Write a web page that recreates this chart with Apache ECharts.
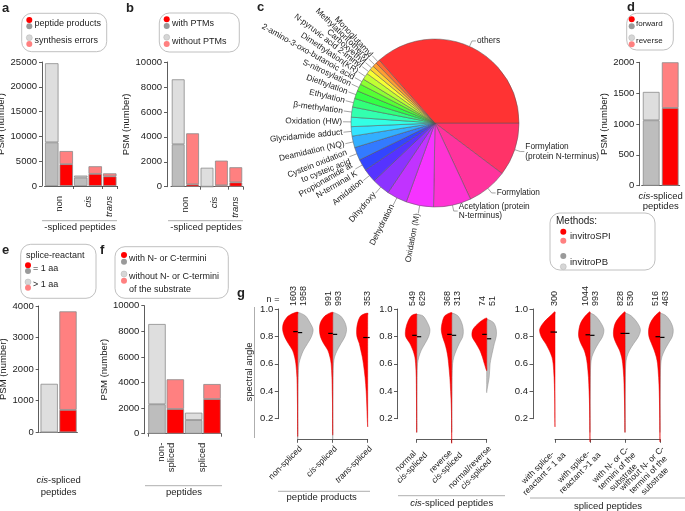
<!DOCTYPE html>
<html><head><meta charset="utf-8">
<script src="https://cdn.jsdelivr.net/npm/echarts@6/dist/echarts.min.js"></script>
<style>html,body{margin:0;padding:0;background:#fff}#c{width:685px;height:511px}</style>
</head><body><div id="c"></div>
<script>
const F = 'Liberation Sans, Arial, Helvetica, sans-serif';
const RED = '#ff0000', PINK = '#ff8080', DGRAY = '#bdbdbd', LGRAY = '#dedede';
const DOT_DGRAY = '#9a9a9a', DOT_LGRAY = '#d6d6d6';

// ---------- panel a ----------
const aCats = ['non|PB', 'non|SPI', 'cis|PB', 'cis|SPI', 'trans|SPI'];
const aMethod = ['PB', 'SPI', 'PB', 'SPI', 'SPI'];
const aProducts = [8800, 4400, 1700, 2450, 1950];
const aErrors = [15950, 2650, 400, 1530, 600];
const aGroups = ['non', 'cis', 'trans'];
// ---------- panel b ----------
const bCats = ['non|PB', 'non|SPI', 'cis|PB', 'cis|SPI', 'trans|SPI'];
const bMethod = ['PB', 'SPI', 'PB', 'SPI', 'SPI'];
const bWithPTM = [3400, 190, 0, 110, 350];
const bWithoutPTM = [5210, 4090, 1520, 1980, 1210];
// ---------- panel d ----------
const dCats = ['PB', 'SPI'];
const dMethod = ['PB', 'SPI'];
const dForward = [1060, 1260];
const dReverse = [460, 740];
// ---------- panel e ----------
const eCats = ['PB', 'SPI'];
const eMethod = ['PB', 'SPI'];
const eEq1 = [0, 710];
const eGt1 = [1535, 3120];
// ---------- panel f ----------
const fCats = ['non-spliced|PB', 'non-spliced|SPI', 'spliced|PB', 'spliced|SPI'];
const fMethod = ['PB', 'SPI', 'PB', 'SPI'];
const fWithNC = [2300, 1930, 1070, 2710];
const fWithoutNC = [6270, 2320, 570, 1170];

// ---------- panel c (pie, clockwise from 3 o'clock; values = slice angle share) ----------
const pieNames = ['Formylation\n(protein N-terminus)', 'Formylation', 'Acetylation (protein\nN-terminus)', 'Oxidation (M)',
  'Dehydration', 'Dihydroxy', 'Amidation', 'Propionamide at\nN-terminal K', 'Cystein oxidation\nto cysteic acid',
  'Deamidation (NQ)', 'Glycidamide adduct', 'Oxidation (HW)', 'β-methylation', 'Ethylation', 'Diethylation',
  'S-nitrosylation', '2-amino-3-oxo-butanoic acid', 'Dimethylation(KR)', 'N-pyruvic acid 2-iminyl', 'Carboxyethyl',
  'Methylation(others)', 'Monoglutamyl', 'others'];
const pieValues = [37, 28, 26, 19, 14, 12.5, 9.5, 8, 9, 8, 6.5, 6.5, 7, 6, 5.5, 5, 4, 4.5, 3.5, 3, 3, 3, 131.5];
const pieHorizontal = ['Formylation\n(protein N-terminus)', 'Formylation', 'Acetylation (protein\nN-terminus)', 'others'];

// ---------- panel g (violins) ----------
const vLevels = [0.95, 0.9, 0.85, 0.8, 0.75, 0.7, 0.65, 0.6, 0.5, 0.4, 0.3, 0.2];
// g1: peptide products
const g1Cats = ['non-spliced', '{i|cis}-spliced', '{i|trans}-spliced'];
const g1nSPI = [1603, 991, 353];
const g1nPB = [1958, 993, null];
const g1medSPI = [0.835, 0.822, 0.792];
const g1medPB = [0.828, 0.815, null];
const g1topSPI = [0.978, 0.977, 0.97];
const g1topPB = [0.975, 0.975, null];
const g1minSPI = [0.07, 0.08, 0.14];
const g1minPB = [0.05, 0.05, null];
const dNonSplSPI = [0.6, 0.92, 0.98, 0.86, 0.62, 0.34, 0.2, 0.12, 0.05, 0.03, 0.015, 0.01];
const dNonSplPB = [0.5, 0.8, 1.0, 0.9, 0.65, 0.38, 0.2, 0.08, 0.03, 0.015, 0.01, 0.006];
const dCisSplSPI = [0.5, 0.8, 0.86, 0.8, 0.6, 0.32, 0.18, 0.1, 0.05, 0.03, 0.01, 0.008];
const dCisSplPB = [0.5, 0.8, 0.9, 0.8, 0.55, 0.3, 0.12, 0.05, 0.02, 0.01, 0.006, 0.004];
const dTransSplSPI = [0.45, 0.65, 0.72, 0.7, 0.55, 0.45, 0.35, 0.28, 0.17, 0.1, 0.06, 0.03];
// g2: cis-spliced peptides
const g2Cats = ['normal\n{i|cis}-spliced', 'reverse\n{i|cis}-spliced', 'normal/reverse\n{i|cis}-spliced'];
const g2nSPI = [549, 368, 74];
const g2nPB = [629, 313, 51];
const g2medSPI = [0.808, 0.815, 0.815];
const g2medPB = [0.798, 0.808, 0.783];
const g2topSPI = [0.965, 0.975, 0.935];
const g2topPB = [0.96, 0.97, 0.925];
const g2minSPI = [0.1, 0.02, 0.55];
const g2minPB = [0.1, 0.1, 0.39];
const dNormalSPI = [0.35, 0.6, 0.72, 0.72, 0.45, 0.25, 0.12, 0.07, 0.03, 0.02, 0.01, 0.006];
const dNormalPB = [0.4, 0.7, 0.86, 0.78, 0.55, 0.3, 0.14, 0.05, 0.02, 0.01, 0.005, 0.004];
const dReverseSPI = [0.45, 0.62, 0.68, 0.6, 0.45, 0.33, 0.25, 0.2, 0.12, 0.07, 0.03, 0.01];
const dReversePB = [0.4, 0.65, 0.75, 0.72, 0.5, 0.3, 0.14, 0.06, 0.02, 0.01, 0.005, 0.003];
const dNormRevSPI = [0, 0.5, 0.9, 0.95, 0.7, 0.45, 0.28, 0.15, 0, 0, 0, 0];
const dNormRevPB = [0, 0.45, 0.62, 0.62, 0.5, 0.4, 0.3, 0.22, 0.16, 0, 0, 0];
// g3: spliced peptides
const g3Cats = ['with splice-\nreactant = 1 aa', 'with splice-\nreactant >1 aa', 'with N- or C-\ntermini of the\nsubstrate', 'without N- or C-\ntermini of the\nsubstrate'];
const g3nSPI = [300, 1044, 828, 516];
const g3nPB = [null, 993, 530, 463];
const g3medSPI = [0.832, 0.812, 0.822, 0.798];
const g3medPB = [null, 0.808, 0.822, 0.793];
const g3topSPI = [0.98, 0.98, 0.98, 0.98];
const g3topPB = [null, 0.97, 0.97, 0.97];
const g3minSPI = [0.14, 0.03, 0.1, 0.03];
const g3minPB = [null, 0.1, 0.1, 0.1];
const dEq1SPI = [0.3, 0.75, 1.0, 0.9, 0.62, 0.38, 0.2, 0.12, 0.06, 0.03, 0.015, 0.01];
const dGt1SPI = [0.3, 0.6, 0.72, 0.74, 0.6, 0.38, 0.25, 0.18, 0.1, 0.06, 0.03, 0.015];
const dGt1PB = [0.35, 0.7, 0.9, 0.82, 0.55, 0.3, 0.12, 0.05, 0.02, 0.01, 0.005, 0.003];
const dWithNCSPI = [0.3, 0.62, 0.74, 0.74, 0.58, 0.36, 0.22, 0.15, 0.08, 0.05, 0.025, 0.01];
const dWithNCPB = [0.4, 0.8, 1.0, 0.88, 0.58, 0.3, 0.12, 0.05, 0.02, 0.01, 0.005, 0.003];
const dWithoutNCSPI = [0.32, 0.62, 0.74, 0.72, 0.56, 0.38, 0.24, 0.16, 0.09, 0.05, 0.03, 0.015];
const dWithoutNCPB = [0.4, 0.72, 0.86, 0.8, 0.55, 0.3, 0.12, 0.05, 0.02, 0.01, 0.005, 0.003];

// ================= build =================
const chart = echarts.init(document.getElementById('c'), null, { renderer: 'canvas' });
const AX = '#333';
const grids = [
  { left: 44.5, top: 62, width: 72.5, height: 124 },    // a
  { left: 171, top: 62, width: 72, height: 124.7 },     // b
  { left: 641.7, top: 62.3, width: 38, height: 123.4 }, // d
  { left: 39.8, top: 306, width: 37.6, height: 126.3 }, // e
  { left: 147.8, top: 305.7, width: 73.4, height: 128 },// f
  { left: 297.7, top: 309, width: 70, height: 109.7 },  // g1
  { left: 416.7, top: 309, width: 70, height: 109.7 },  // g2
  { left: 555, top: 309, width: 105, height: 109.7 }    // g3
].map(g => Object.assign({ outerBoundsMode: 'none', containLabel: false }, g));

function colorFor(m, dark) { return m === 'SPI' ? (dark ? RED : PINK) : (dark ? DGRAY : LGRAY); }
const xAxes = [], yAxes = [], series = [];
function barPanel(gi, cats, methods, darkVals, lightVals, max, interval, yOff, xOff, nameGap, gap, tickIdx) {
  xAxes.push({ type: 'category', gridIndex: gi, data: cats, offset: xOff,
    axisLine: { lineStyle: { color: AX, width: 0.8 } },
    axisTick: { show: !!tickIdx, length: 3, interval: (i) => !!tickIdx && tickIdx.indexOf(i) >= 0, lineStyle: { color: AX, width: 0.8 } },
    axisLabel: { show: false } });
  yAxes.push({ type: 'value', gridIndex: gi, min: 0, max, interval, offset: yOff,
    name: 'PSM (number)', nameLocation: 'middle', nameGap, nameTextStyle: { fontSize: 9.5, color: '#222', fontFamily: F },
    axisLine: { show: true, lineStyle: { color: AX, width: 0.8 } },
    axisTick: { show: true, length: 3, lineStyle: { color: AX, width: 0.8 } },
    axisLabel: { fontSize: 9.5, color: '#222', margin: 5, fontFamily: F, formatter: v => String(v) },
    splitLine: { show: false } });
  const mk = (vals, dark) => ({ type: 'bar', xAxisIndex: gi, yAxisIndex: gi, stack: 's' + gi, barCategoryGap: gap, silent: true,
    data: vals.map((v, i) => ({ value: v, itemStyle: { color: colorFor(methods[i], dark) } })),
    itemStyle: { borderColor: '#8a8a8a', borderWidth: 0.8 } });
  series.push(mk(darkVals, true), mk(lightVals, false));
}
barPanel(0, aCats, aMethod, aProducts, aErrors, 25000, 5000, 2.5, 4, 31, '7%', [2, 4]);
barPanel(1, bCats, bMethod, bWithPTM, bWithoutPTM, 10000, 2000, 4, 4.3, 28, '11%', [2, 4]);
barPanel(2, dCats, dMethod, dForward, dReverse, 2000, 500, 2.4, 6, 25, '12%', null);
barPanel(3, eCats, eMethod, eEq1, eGt1, 4000, 1000, 1.1, 5, 28, '8%', null);
barPanel(4, fCats, fMethod, fWithNC, fWithoutNC, 10000, 2000, 3.5, 4, 31, '5%', [2]);

// violins
const lblBase = { fontSize: 8.5, fontFamily: F, color: '#222', lineHeight: 9, align: 'center' };
const richC = { c: Object.assign({}, lblBase), ci: Object.assign({ fontStyle: 'italic' }, lblBase) };
function centerLines(s) {
  return s.split('\n').map(line => {
    const parts = []; const re = /\{i\|([^}]*)\}/g; let last = 0, m;
    while ((m = re.exec(line))) {
      if (m.index > last) parts.push('{c|' + line.slice(last, m.index) + '}');
      parts.push('{ci|' + m[1] + '}'); last = re.lastIndex;
    }
    if (last < line.length) parts.push('{c|' + line.slice(last) + '}');
    return parts.join('');
  }).join('\n');
}
function halvesOf(side, n, med, top, min, dens) {
  const out = [];
  n.forEach((v, i) => { if (v != null) out.push({ cat: i, side, n: v, med: med[i], top: top[i], min: min[i], dens: dens[i] }); });
  return out;
}
function violinRender(halves) {
  return function (params, api) {
    const h = halves[params.dataIndex];
    const c = api.coord([h.cat, 0.5])[0];
    const k = api.size([1, 0])[0] * 0.44;
    const s = h.side === 'SPI' ? -1 : 1;
    const outer = [[c, api.coord([h.cat, h.top])[1]]];
    const inner = [];
    vLevels.forEach((lv, i) => {
      if (lv < h.top && lv > h.min) {
        const y = api.coord([h.cat, lv])[1];
        outer.push([c + s * h.dens[i] * k, y]);
        inner.unshift([c, y]);
      }
    });
    outer.push([c, api.coord([h.cat, h.min])[1]]);
    const pts = outer.concat(inner);
    const my = api.coord([h.cat, h.med])[1];
    const single = h.side === 'SPI' && halves.every(o => !(o.cat === h.cat && o.side === 'PB'));
    return { type: 'group', children: [
      { type: 'polygon', shape: { points: pts, smooth: 0.3 },
        style: { fill: h.side === 'SPI' ? RED : '#bebebe', stroke: h.side === 'SPI' ? '#e00000' : '#8c8c8c', lineWidth: 0.5 } },
      { type: 'line', shape: { x1: c, y1: my, x2: single ? c - 4.5 : c + s * 4.5, y2: my }, style: { stroke: '#000', lineWidth: 1.2 } },
      single ? { type: 'line', shape: { x1: c, y1: my, x2: c + 2, y2: my }, style: { stroke: '#000', lineWidth: 1.2 } } : { type: 'group' }
    ] };
  };
}
function violinPanel(gi, cats, yOff, halves) {
  xAxes.push({ type: 'category', gridIndex: gi, data: cats, boundaryGap: false, offset: 20.6,
    axisLine: { lineStyle: { color: AX, width: 0.8 } },
    axisTick: { show: true, length: 3.5, lineStyle: { color: AX, width: 0.8 } },
    axisLabel: { rotate: 45, fontSize: 8.5, color: '#222', fontFamily: F, margin: 5, interval: 0, rich: richC, lineHeight: 9,
      align: 'right', verticalAlign: 'top', formatter: v => centerLines(v) } });
  yAxes.push({ type: 'value', gridIndex: gi, min: 0.2, max: 1.0, interval: 0.2, offset: yOff,
    axisLine: { show: true, lineStyle: { color: AX, width: 0.8 } },
    axisTick: { show: true, length: 3.5, lineStyle: { color: AX, width: 0.8 } },
    axisLabel: { fontSize: 9.5, color: '#222', margin: 5, fontFamily: F, formatter: v => v.toFixed(1) },
    splitLine: { show: false } });
  const ordered = halves.filter(h => h.side === 'PB').concat(halves.filter(h => h.side === 'SPI'));
  series.push({ type: 'custom', xAxisIndex: gi, yAxisIndex: gi, silent: true, clip: false,
    data: ordered.map(h => [h.cat, h.med]), renderItem: violinRender(ordered) });
  return ordered;
}
const H1 = halvesOf('SPI', g1nSPI, g1medSPI, g1topSPI, g1minSPI, [dNonSplSPI, dCisSplSPI, dTransSplSPI])
  .concat(halvesOf('PB', g1nPB, g1medPB, g1topPB, g1minPB, [dNonSplPB, dCisSplPB, null]));
const H2 = halvesOf('SPI', g2nSPI, g2medSPI, g2topSPI, g2minSPI, [dNormalSPI, dReverseSPI, dNormRevSPI])
  .concat(halvesOf('PB', g2nPB, g2medPB, g2topPB, g2minPB, [dNormalPB, dReversePB, dNormRevPB]));
const H3 = halvesOf('SPI', g3nSPI, g3medSPI, g3topSPI, g3minSPI, [dEq1SPI, dGt1SPI, dWithNCSPI, dWithoutNCSPI])
  .concat(halvesOf('PB', g3nPB, g3medPB, g3topPB, g3minPB, [null, dGt1PB, dWithNCPB, dWithoutNCPB]));
violinPanel(5, g1Cats, 19.4, H1);
violinPanel(6, g2Cats, 19.2, H2);
violinPanel(7, g3Cats, 22, H3);

// pie
function hsv(h, s, v) {
  const f = (n) => { const k = (n + h / 60) % 6; return v - v * s * Math.max(0, Math.min(k, 4 - k, 1)); };
  const t = x => Math.round(x * 255).toString(16).padStart(2, '0');
  return '#' + t(f(5)) + t(f(3)) + t(f(1));
}
const nP = pieNames.length;
series.push({ type: 'pie', center: [435, 123], radius: 84, startAngle: 0, clockwise: true, silent: true,
  avoidLabelOverlap: false, minShowLabelAngle: 0,
  labelLayout: { hideOverlap: false },
  itemStyle: { borderColor: '#555', borderWidth: 0.5 },
  label: { show: true, position: 'outside', fontSize: 8.3, color: '#222', fontFamily: F, lineHeight: 9.5, distanceToLabelLine: 1 },
  labelLine: { show: true, length: 6, length2: 3, lineStyle: { color: '#666', width: 0.6 } },
  data: pieNames.map((n, i) => {
    const horiz = pieHorizontal.indexOf(n) >= 0;
    return { name: n, value: pieValues[i], itemStyle: { color: hsv(((nP - 1 - i) * 360 / nP) % 360, 0.8, 1) },
      label: horiz ? { rotate: 0 } : { rotate: 'radial' },
      labelLine: horiz ? { length: 6, length2: 4 } : { length: 8, length2: 0 } };
  })
});

chart.setOption({
  animation: false,
  textStyle: { fontFamily: F },
  grid: grids, xAxis: xAxes, yAxis: yAxes, series: series
});

// ================= annotations (positions via the chart's scales) =================
const G = [];
function txt(x, y, text, o) {
  o = o || {};
  G.push({ type: 'text', x, y, rotation: o.rot || 0, silent: true, z: 10,
    style: { text, fill: o.color || '#222', fontSize: o.size || 9, fontFamily: F, fontWeight: o.bold ? 'bold' : 'normal',
      align: o.align || 'left', verticalAlign: o.va || 'middle', lineHeight: o.lh || 10,
      rich: { i: { fontStyle: 'italic', fontSize: o.size || 9, fontFamily: F, fill: o.color || '#222' } } } });
}
function line(x1, y1, x2, y2, c, w) { G.push({ type: 'line', silent: true, z: 10, shape: { x1, y1, x2, y2 }, style: { stroke: c || '#999', lineWidth: w || 0.8 } }); }
function box(x, y, w, h) { G.push({ type: 'rect', silent: true, z: 9, shape: { x, y, width: w, height: h, r: 10 }, style: { fill: '#fff', stroke: '#b0b0b0', lineWidth: 0.8 } }); }
function dot(cx, cy, fill) { G.push({ type: 'circle', silent: true, z: 11, shape: { cx, cy, r: 3 }, style: { fill, stroke: fill === DOT_LGRAY ? '#aaa' : null, lineWidth: 0.4 } }); }
function legendPair(x, y1, y2, c1, c2) { dot(x, y1, c1); dot(x, y2, c2); }

// panel letters
txt(2, 8, 'a', { bold: true, size: 13 });
txt(126, 8, 'b', { bold: true, size: 13 });
txt(257, 7, 'c', { bold: true, size: 13 });
txt(627, 7, 'd', { bold: true, size: 13 });
txt(2, 250, 'e', { bold: true, size: 13 });
txt(100, 250, 'f', { bold: true, size: 13 });
txt(237, 293, 'g', { bold: true, size: 13 });

// legends
box(21.7, 13.3, 85, 38.4);
legendPair(29.3, 20, 26.3, RED, DOT_DGRAY); txt(34.5, 23.5, 'peptide products');
legendPair(29.3, 37.7, 44, DOT_LGRAY, PINK); txt(34.5, 41, 'synthesis errors');
box(159.3, 13, 80, 39);
legendPair(166.7, 19.3, 26, RED, DOT_DGRAY); txt(172, 24, 'with PTMs');
legendPair(166.7, 37.3, 44, DOT_LGRAY, PINK); txt(172, 41.5, 'without PTMs');
box(626.7, 13.3, 46.6, 36.7);
legendPair(631.7, 19.3, 26.3, RED, DOT_DGRAY); txt(636, 23.5, 'forward', { size: 8 });
legendPair(631.7, 37.7, 44.3, DOT_LGRAY, PINK); txt(636, 41, 'reverse', { size: 8 });
box(20.7, 244.3, 75.3, 54);
txt(26, 255.7, 'splice-reactant');
legendPair(28, 265.3, 271, RED, DOT_DGRAY); txt(33, 268.3, '= 1 aa');
legendPair(28, 282, 287.7, DOT_LGRAY, PINK); txt(33, 285, '> 1 aa');
box(115, 246.7, 113.3, 51.6);
legendPair(124, 255, 261.7, RED, DOT_DGRAY); txt(129, 259, 'with N- or C-termini');
legendPair(124, 274, 280.7, DOT_LGRAY, PINK); txt(129, 276.7, 'without N- or C-termini');
txt(129, 290, 'of the substrate');
box(550, 213, 105, 57);
txt(556, 221.7, 'Methods:', { size: 10 });
legendPair(563.3, 231.7, 240.7, RED, PINK); txt(570, 236.5, 'invitroSPI', { size: 9.5 });
legendPair(563.3, 256, 266.7, DOT_DGRAY, DOT_LGRAY); txt(570, 262, 'invitroPB', { size: 9.5 });

// bar panel x labels (group labels placed via the axis scale)
function px(ai, v) { return chart.convertToPixel({ xAxisIndex: ai }, v); }
function py(ai, v) { return chart.convertToPixel({ yAxisIndex: ai }, v); }
const groupIdx3 = [[0, 1], [2, 3], [4]];
const groupText = ['non', '{i|cis}', '{i|trans}'];
[0, 1].forEach(ai => {
  const base = py(ai, 0) + 10;
  groupIdx3.forEach((idx, gi) => {
    const x = idx.reduce((s, i) => s + px(ai, i), 0) / idx.length;
    txt(x, base, groupText[gi], { rot: Math.PI / 2, align: 'right', size: 9.5 });
  });
});
line(42, 220.7, 117, 220.7); txt(80, 227, '-spliced peptides', { align: 'center', size: 9.5 });
line(168, 220.7, 243, 220.7); txt(206, 227, '-spliced peptides', { align: 'center', size: 9.5 });
// d
{ const x = (px(2, 0) + px(2, 1)) / 2; const y = py(2, 0);
  txt(x, y + 15.5, '{i|cis}-spliced\npeptides', { align: 'center', size: 9.5, lh: 10 }); }
// e
{ const x = (px(3, 0) + px(3, 1)) / 2;
  txt(x, 486, '{i|cis}-spliced\npeptides', { align: 'center', size: 9.5, lh: 12 }); }
// f
{ const y = py(4, 0) + 9;
  const fGroups = [[0, 1], [2, 3]]; const fText = ['non-\nspliced', 'spliced'];
  fGroups.forEach((idx, gi) => { const x = (px(4, idx[0]) + px(4, idx[1])) / 2; txt(x, y, fText[gi], { rot: Math.PI / 2, align: 'right', size: 9.5 }); });
  line(145, y + 43, 222, y + 43); txt(184, y + 50, 'peptides', { align: 'center', size: 9.5 }); }

// violin counts
function counts(ai, nS, nP) {
  nS.forEach((v, i) => {
    const c = px(ai, i);
    const pair = nP[i] != null;
    txt(c + (pair ? -4.5 : 0), 306, String(v), { rot: Math.PI / 2, size: 9 });
    if (pair) txt(c + 5.8, 306, String(nP[i]), { rot: Math.PI / 2, size: 9 });
  });
}
counts(5, g1nSPI, g1nPB); counts(6, g2nSPI, g2nPB); counts(7, g3nSPI, g3nPB);
txt(273, 300, 'n =', { align: 'center', size: 9 });
line(254.5, 307, 254.5, 438);
txt(249, 372, 'spectral angle', { rot: Math.PI / 2, align: 'center', size: 9.5 });
line(278, 491.3, 370, 491.3); txt(321.7, 497.5, 'peptide products', { align: 'center', size: 9.5 });
line(398, 495.7, 505, 495.7); txt(451.7, 503, '{i|cis}-spliced peptides', { align: 'center', size: 9.5 });
line(530, 498, 685, 498); txt(608, 506, 'spliced peptides', { align: 'center', size: 9.5 });

chart.setOption({ graphic: { elements: G } });
</script></body></html>
